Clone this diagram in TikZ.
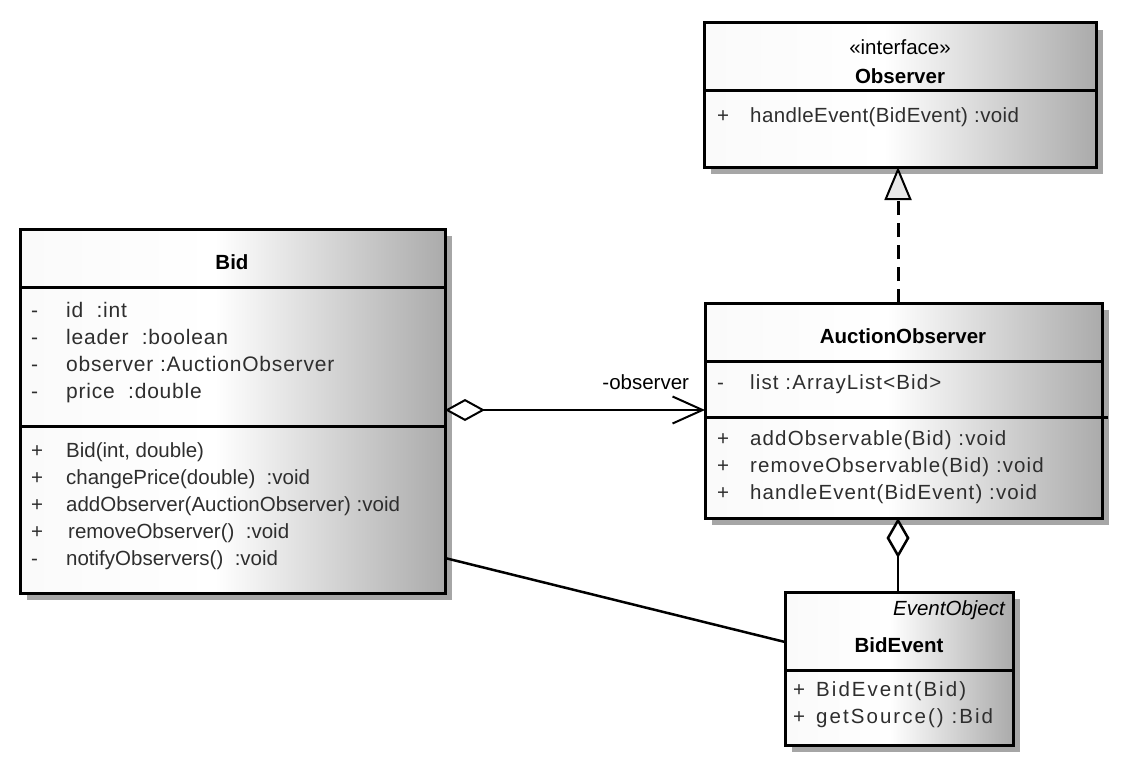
\documentclass[tikz,border=0pt]{standalone}
\usepackage{fontspec}
\setmainfont{Liberation Sans}
% slightly tracked variants used by the member compartments
\newfontfamily\attrfont[LetterSpace=3.8]{Liberation Sans}
\newfontfamily\obsfont[LetterSpace=2]{Liberation Sans}
\newfontfamily\aofont[LetterSpace=5.5]{Liberation Sans}
\newfontfamily\evfont[LetterSpace=10]{Liberation Sans}
\usetikzlibrary{arrows.meta,shadows}

% white-to-grey fade used for every class box
\pgfdeclarehorizontalshading{umlfade}{100bp}{color(0bp)=(white); color(25bp)=(white!98!black); color(48bp)=(white); color(75bp)=(black!33); color(100bp)=(black!33)}

% one compartment row: visibility mark in a fixed-width slot, then the member
\newcommand\umlrow[3]{\makebox[#1][l]{#2}#3}

\begin{document}
\begin{tikzpicture}[x=1pt,y=-1pt,
  classbox/.style={draw=black, line width=3pt, shade, shading=umlfade,
    general shadow={fill=black!35, shadow xshift=7pt, shadow yshift=-7pt},
    anchor=north west, inner sep=0pt, outer sep=0pt},
  divider/.style={line width=3pt},
  member/.style={anchor=base west, inner sep=0pt, text=black!82,
    font=\fontsize{20.5}{24}\selectfont},
  attr/.style={member, font=\fontsize{21}{24}\attrfont},
  obsrow/.style={member, font=\fontsize{20.5}{24}\obsfont},
  aorow/.style={member, font=\fontsize{20.5}{24}\aofont},
  evrow/.style={member, font=\fontsize{20.5}{24}\evfont},
  classname/.style={anchor=base, inner sep=0pt, text=black,
    font=\fontsize{20.5}{24}\selectfont\bfseries},
  stereo/.style={anchor=base, inner sep=0pt, text=black,
    font=\fontsize{20.5}{24}\selectfont},
  link/.style={line width=2.5pt, draw=black},
]
\useasboundingbox (0,0) rectangle (1123,776);

% ---------- Observer (interface) ----------
\node[classbox, minimum width=392pt, minimum height=144pt] (obs) at (704,23) {};
\draw[divider] (obs.west |- 0,90) -- (obs.east |- 0,90);
\node[stereo] (obs-st) at (900,55) {«interface»};
\node[classname] (obs-name) at (900,83) {Observer};
\node[obsrow] (obs-m1) at (717,122) {\umlrow{33pt}{+}{handleEvent(BidEvent) :void}};

% ---------- Bid ----------
\node[classbox, minimum width=425pt, minimum height=364pt] (bid) at (20,229) {};
\draw[divider] (bid.west |- 0,287) -- (bid.east |- 0,287);
\draw[divider] (bid.west |- 0,426) -- (bid.east |- 0,426);
\node[classname] (bid-name) at (232,269) {Bid};
\node[attr] (bid-a1) at (31,317) {\umlrow{35pt}{-}{id\ \ :int}};
\node[attr] (bid-a2) at (31,344) {\umlrow{35pt}{-}{leader\ \ :boolean}};
\node[attr] (bid-a3) at (31,371) {\umlrow{35pt}{-}{observer :AuctionObserver}};
\node[attr] (bid-a4) at (31,398) {\umlrow{35pt}{-}{price\ \ :double}};
\node[member] (bid-m1) at (31,457) {\umlrow{35pt}{+}{Bid(int, double)}};
\node[member] (bid-m2) at (31,484) {\umlrow{35pt}{+}{changePrice(double)\ \ :void}};
\node[member] (bid-m3) at (31,511) {\umlrow{35pt}{+}{addObserver(AuctionObserver) :void}};
\node[member] (bid-m4) at (31,538) {\umlrow{37pt}{+}{removeObserver()\ \ :void}};
\node[member] (bid-m5) at (31,565) {\umlrow{35pt}{-}{notifyObservers()\ \ :void}};

% ---------- AuctionObserver ----------
\node[classbox, minimum width=397pt, minimum height=215pt] (ao) at (705,303) {};
\draw[divider] (ao.west |- 0,361) -- (ao.east |- 0,361);
\draw[divider] (ao.west |- 0,417) -- ([xshift=6pt]ao.east |- 0,417);
\node[classname] (ao-name) at (903,343) {AuctionObserver};
\node[aorow] (ao-a1) at (717,389) {\umlrow{33pt}{-}{list :ArrayList<Bid>}};
\node[aorow] (ao-m1) at (717,445) {\umlrow{33pt}{+}{addObservable(Bid) :void}};
\node[aorow] (ao-m2) at (717,472) {\umlrow{33pt}{+}{removeObservable(Bid) :void}};
\node[aorow] (ao-m3) at (717,499) {\umlrow{33pt}{+}{handleEvent(BidEvent) :void}};

% ---------- BidEvent ----------
\node[classbox, minimum width=228pt, minimum height=153pt] (be) at (785,592) {};
\draw[divider] (be.west |- 0,670) -- (be.east |- 0,670);
\node[stereo, anchor=base east, font=\fontsize{20.5}{24}\selectfont\itshape] (be-st) at (1005,615) {EventObject};
\node[classname] (be-name) at (899,652) {BidEvent};
\node[evrow] (be-m1) at (793,696) {\umlrow{23pt}{+}{BidEvent(Bid)}};
\node[evrow] (be-m2) at (793,723) {\umlrow{23pt}{+}{getSource() :Bid}};

% ---------- relationships ----------
\coordinate (assoc-y) at (0,410);
\coordinate (vert-x) at (898,0);

% Bid <>---> AuctionObserver
\draw[line width=2pt, {Diamond[length=40pt,width=22pt,fill=white]}-{Straight Barb[length=30pt,width=27pt]}]
  (bid.east |- assoc-y) -- (ao.west |- assoc-y)
  node[pos=1, anchor=base east, inner sep=0pt, xshift=-15pt, yshift=21pt,
       font=\fontsize{20.5}{24}\selectfont] (assoc-label) {-observer};

% AuctionObserver realizes Observer
\draw[link, line width=3pt, dash pattern=on 14pt off 8pt, -{Triangle[length=33pt,width=27pt,fill=black!9,line width=2pt]}]
  (ao.north -| vert-x) -- (obs.south -| vert-x);

% AuctionObserver <>--- BidEvent
\draw[link, {Diamond[length=40pt,width=23pt,fill=white]}-]
  (ao.south -| vert-x) -- (be.north -| vert-x);

% Bid --- BidEvent
\coordinate (bid-out) at (0,558);
\coordinate (be-in) at (0,642);
\draw[link] (bid.east |- bid-out) -- (be.west |- be-in);
\end{tikzpicture}
\end{document}
